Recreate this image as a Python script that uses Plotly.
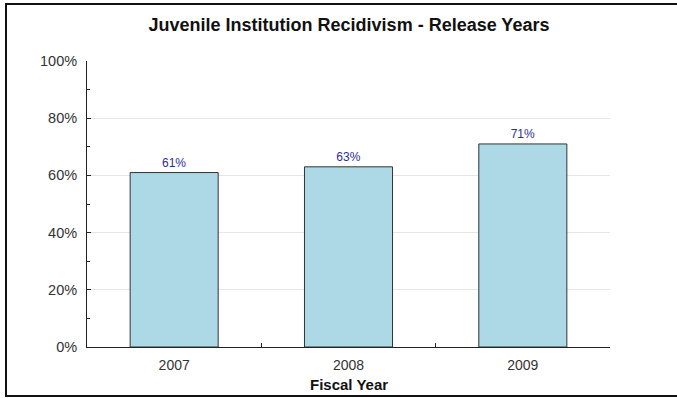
import plotly.graph_objects as go

# Recidivism rate by release fiscal year
years = ["2007", "2008", "2009"]
rates = [61, 63, 71]
rate_labels = [f"{v}%" for v in rates]

title_text = "Juvenile Institution Recidivism - Release Years"
x_title = "Fiscal Year"
y_ticks = [0, 20, 40, 60, 80, 100]
y_tick_labels = [f"{v}%" for v in y_ticks]

FONT = "Liberation Sans, Arial, sans-serif"

fig = go.Figure(
    go.Bar(
        x=years,
        y=rates,
        width=0.505,
        marker=dict(color="#ADD8E6", line=dict(color="#333333", width=1)),
        text=rate_labels,
        textposition="outside",
        textfont=dict(family=FONT, size=12, color="#2E2E99"),
        cliponaxis=False,
    )
)

W, H = 677, 398
L, R, T, B = 87, 610, 61, 347
pw, ph = R - L, B - T

def px_x(x):
    return (x - L) / pw

def px_y(y):
    return (B - y) / ph

fig.update_layout(
    width=W,
    height=H,
    margin=dict(l=L, r=W - R, t=T, b=H - B),
    paper_bgcolor="white",
    plot_bgcolor="white",
    showlegend=False,
    font=dict(family=FONT, color="#333333"),
    title=dict(
        text=title_text,
        x=349 / W,
        xanchor="center",
        xref="container",
        y=1 - 24.5 / H,
        yref="container",
        yanchor="middle",
        font=dict(family=FONT, size=18, color="#111111", weight="bold"),
    ),
    xaxis=dict(
        type="category",
        range=[-0.5, 2.5],
        showline=True,
        linecolor="#222222",
        linewidth=1,
        ticks="inside",
        tickson="boundaries",
        ticklen=4,
        tickcolor="#222222",
        showgrid=False,
        ticklabelstandoff=5,
        tickfont=dict(family=FONT, size=14, color="#333333"),
    ),
    yaxis=dict(
        range=[0, 100],
        tickvals=y_ticks,
        ticktext=y_tick_labels,
        showline=True,
        linecolor="#222222",
        linewidth=1,
        ticks="inside",
        ticklen=4,
        tickcolor="#222222",
        showgrid=True,
        gridcolor="#E6E6E6",
        gridwidth=1,
        zeroline=False,
        ticklabelstandoff=6,
        tickfont=dict(family=FONT, size=14.5, color="#333333"),
        minor=dict(dtick=10, ticks="inside", ticklen=3, tickcolor="#222222", showgrid=False),
    ),
    annotations=[
        dict(
            text=x_title,
            xref="paper",
            yref="paper",
            x=0.5,
            y=px_y(384),
            xanchor="center",
            yanchor="middle",
            showarrow=False,
            font=dict(family=FONT, size=15, color="#111111", weight="bold"),
        )
    ],
    shapes=[
        dict(
            type="rect",
            xref="paper",
            yref="paper",
            x0=px_x(6),
            x1=px_x(690),
            y0=px_y(396),
            y1=px_y(4),
            line=dict(color="#111111", width=2),
            fillcolor="rgba(0,0,0,0)",
            layer="below",
        )
    ],
)

fig.write_html("out.html")
